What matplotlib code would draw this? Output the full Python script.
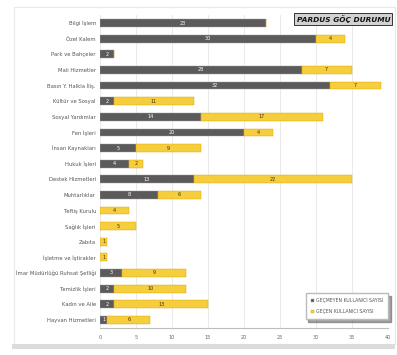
import matplotlib
matplotlib.use("Agg")
import matplotlib.pyplot as plt
from matplotlib.patches import Rectangle
import numpy as np

birimler = ["Bilgi İşlem", "Özel Kalem", "Park ve Bahçeler", "Mali Hizmetler",
            "Basın Y. Halkla İliş.", "Kültür ve Sosyal", "Sosyal Yardımlar", "Fen İşleri",
            "İnsan Kaynakları", "Hukuk İşleri", "Destek Hizmetleri", "Muhtarlıklar",
            "Teftiş Kurulu", "Sağlık İşleri", "Zabıta", "İşletme ve İştirakler",
            "İmar Müdürlüğü Ruhsat Şefliği", "Temizlik İşleri", "Kadın ve Aile",
            "Hayvan Hizmetleri"]
gecmeyen = [23, 30, 2, 28, 32, 2, 14, 20, 5, 4, 13, 8, 0, 0, 0, 0, 3, 2, 2, 1]
gecen = [0, 4, 0, 7, 7, 11, 17, 4, 9, 2, 22, 6, 4, 5, 1, 1, 9, 10, 13, 6]
xticks = [0, 5, 10, 15, 20, 25, 30, 35, 40]

GRI = "#5d5a5c"
SARI = "#f6cd3c"

fig = plt.figure(figsize=(3.97, 3.55), dpi=100)
fig.patch.set_facecolor("white")

# faint page frame + bottom shadow
fig.patches.append(Rectangle((0.035, 0.03), 0.96, 0.95, transform=fig.transFigure,
                             fill=False, ec="#e8e8e8", lw=0.8))
fig.patches.append(Rectangle((0.03, 0.018), 0.965, 0.014, transform=fig.transFigure,
                             fc="#dcdcdc", ec="none"))

ax = fig.add_axes([0.252, 0.077, 0.725, 0.88])
y = np.arange(len(birimler))
g = np.array(gecmeyen)
s = np.array(gecen)
ax.barh(y, g, height=0.5, color=GRI, ec="#9a9a9a", lw=0.3, label="GEÇMEYEN KULLANICI SAYISI", zorder=3)
ax.barh(y, s, left=g, height=0.5, color=SARI, ec="#d9a400", lw=0.3, label="GEÇEN KULLANICI SAYISI", zorder=3)

for i in range(len(y)):
    if g[i] > 0:
        ax.text(g[i] / 2, y[i], str(g[i]), color="white", fontsize=3.5,
                ha="center", va="center", zorder=4)
    if s[i] > 0:
        ax.text(g[i] + s[i] / 2, y[i], str(s[i]), color="#3a3220", fontsize=3.5,
                ha="center", va="center", zorder=4)

ax.set_xlim(0, 40)
ax.set_ylim(len(y) - 0.5, -0.5)
ax.set_xticks(xticks)
ax.set_xticklabels([str(t) for t in xticks], fontsize=3.5, color="#666666")
ax.set_yticks(y)
ax.set_yticklabels(birimler, fontsize=3.8, color="#555555")
ax.tick_params(axis="y", length=0, pad=3)
ax.tick_params(axis="x", length=0, pad=5)
ax.grid(axis="x", color="#e6e6e6", lw=0.6, zorder=0)
for sp in ["top", "right", "left"]:
    ax.spines[sp].set_visible(False)
ax.spines["bottom"].set_color("#bdbdbd")
ax.spines["bottom"].set_linewidth(0.8)

leg = ax.legend(loc="lower right", bbox_to_anchor=(1.01, 0.02), fontsize=3.3,
                frameon=True, fancybox=False, edgecolor="#bbbbbb", shadow=True,
                handlelength=0.8, handleheight=0.8, borderpad=1.1, labelspacing=1.3,
                handletextpad=0.4)
for t in leg.get_texts():
    t.set_color("#555555")

fig.text(0.983, 0.947, "PARDUS GÖÇ DURUMU", fontsize=5.3, fontweight="bold",
         fontstyle="italic", ha="right", va="center", color="#111111",
         bbox=dict(boxstyle="square,pad=0.3", fc="#d2d2d2", ec="#333333", lw=0.7))

fig.savefig("out.png", dpi=100)
